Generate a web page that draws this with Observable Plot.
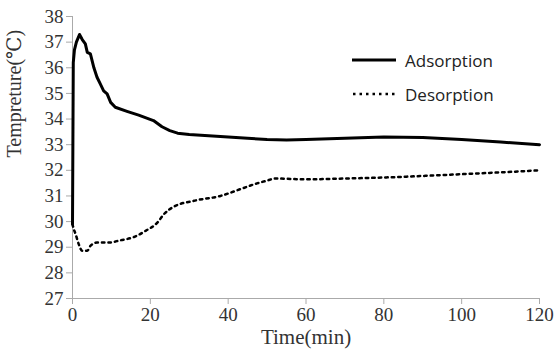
<!DOCTYPE html>
<html><head><meta charset="utf-8">
<script src="https://cdn.jsdelivr.net/npm/d3@7"></script>
<script src="https://cdn.jsdelivr.net/npm/@observablehq/plot@0.6"></script>
<style>
body{margin:0;background:#fff;}
#wrap{position:relative;width:555px;height:353px;}
#legend{position:absolute;left:352px;top:43px;font-family:"Open Sans",Lato,sans-serif;font-size:17px;color:#222;}
#legend div{display:flex;align-items:center;height:34px;}
#legend svg{margin-right:9px;}
#chart svg text{font-family:"Liberation Serif","DejaVu Serif",serif !important;}
</style></head>
<body><div id="wrap"><div id="chart"></div>
<div id="legend">
<div><svg width="44" height="6"><line x1="0" y1="3" x2="44" y2="3" stroke="#000" stroke-width="3"/></svg>Adsorption</div>
<div><svg width="44" height="6"><line x1="1" y1="3" x2="44" y2="3" stroke="#000" stroke-width="2.5" stroke-dasharray="2.5 4"/></svg>Desorption</div>
</div></div>
<script>
const adsTime = [0, 0.2, 0.5, 1.0, 1.8, 2.5, 3.3, 3.8, 4.6, 5.5, 6.3, 7.2, 8.0, 8.9, 9.8, 11, 14, 17, 20.8, 23, 25, 27, 30, 35, 40, 45, 50, 55, 60, 70, 80, 90, 100, 110, 120];
const adsTemp = [29.9, 36.2, 36.7, 37.0, 37.3, 37.1, 36.93, 36.6, 36.54, 36.0, 35.63, 35.35, 35.1, 34.98, 34.65, 34.46, 34.3, 34.15, 33.94, 33.7, 33.55, 33.45, 33.4, 33.35, 33.3, 33.25, 33.2, 33.18, 33.2, 33.25, 33.3, 33.28, 33.2, 33.1, 33.0];
const desTime = [0, 0.2, 0.8, 1.6, 2.5, 3.8, 4.6, 6.3, 9.3, 12.3, 15.8, 18.8, 21.8, 23.5, 26.0, 31.2, 38, 43.2, 47.4, 50, 52, 60, 70, 80, 90, 100, 110, 120];
const desTemp = [29.9, 29.77, 29.51, 29.12, 28.86, 28.86, 29.05, 29.18, 29.18, 29.27, 29.4, 29.64, 29.96, 30.29, 30.58, 30.81, 31.0, 31.27, 31.49, 31.6, 31.68, 31.65, 31.68, 31.72, 31.78, 31.85, 31.92, 32.0];
const xTicks = [0, 20, 40, 60, 80, 100, 120];
const yTicks = [27, 28, 29, 30, 31, 32, 33, 34, 35, 36, 37, 38];

const ads = adsTime.map((t, i) => ({t, v: adsTemp[i]}));
const des = desTime.map((t, i) => ({t, v: desTemp[i]}));
const serif = "'Liberation Serif', 'DejaVu Serif', serif";

const plot = Plot.plot({
  width: 555, height: 353,
  marginLeft: 72, marginRight: 16, marginTop: 16, marginBottom: 55,
  style: {fontFamily: serif, fontSize: "19px", color: "#333", background: "#fff"},
  x: {domain: [0, 120], ticks: xTicks, label: null},
  y: {domain: [27, 38], ticks: yTicks, label: null},
  marks: [
    Plot.axisX({ticks: xTicks, tickSize: 6, tickPadding: 3, stroke: "#aaa", fill: "#333", fontSize: 19, fontFamily: serif, label: null}),
    Plot.axisY({ticks: yTicks, tickSize: 6, tickPadding: 3, stroke: "#aaa", fill: "#333", fontSize: 19, fontFamily: serif, label: null}),
    Plot.ruleY([27], {stroke: "#aaa"}),
    Plot.ruleX([0], {stroke: "#aaa"}),
    Plot.line(des, {x: "t", y: "v", stroke: "#000", strokeWidth: 2.5, strokeDasharray: "2.5 4", curve: "monotone-x"}),
    Plot.line(ads, {x: "t", y: "v", stroke: "#000", strokeWidth: 3, curve: "linear"}),
    Plot.text(["Time(min)"], {frameAnchor: "bottom", dy: 45, fontSize: 21, fontFamily: serif, fill: "#333"}),
    Plot.text(["Tempreture(℃)"], {frameAnchor: "left", dx: -58, rotate: -90, fontSize: 20, fontFamily: serif, fill: "#333"})
  ]
});
document.getElementById("chart").appendChild(plot);
</script>
</body></html>
